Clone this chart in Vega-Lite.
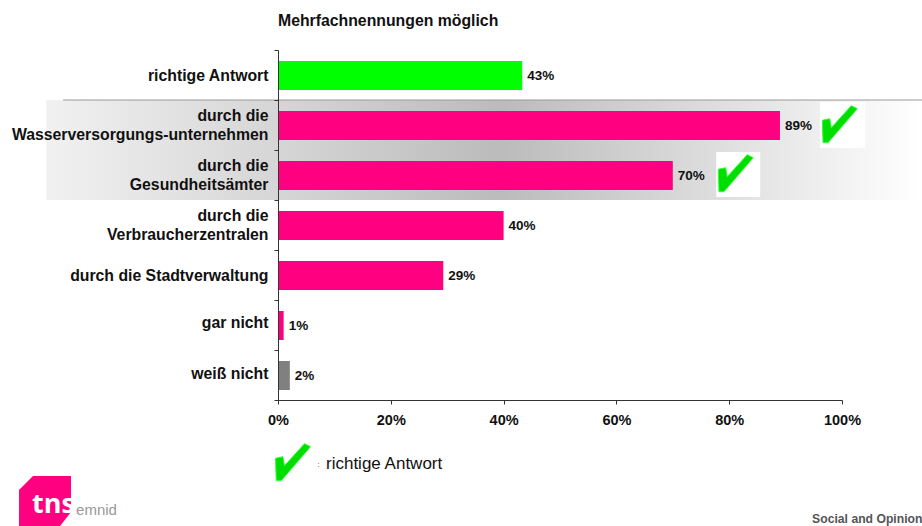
{"$schema":"https://vega.github.io/schema/vega-lite/v6.json","width":564,"height":350,"autosize":{"type":"none"},"padding":{"left":278,"top":50,"right":80,"bottom":126},"background":"white","view":{"stroke":null},"config":{"font":"Liberation Sans","text":{"font":"Liberation Sans"}},"resolve":{"scale":{"y":"independent"}},"layer":[{"data":{"values":[{"name":"richtige Antwort","value":43.3,"label":"43%","group":"richtig"},{"name":"durch die|Wasserversorgungs-unternehmen","value":89,"label":"89%","group":"genannt"},{"name":"durch die|Gesundheitsämter","value":70,"label":"70%","group":"genannt"},{"name":"durch die|Verbraucherzentralen","value":40,"label":"40%","group":"genannt"},{"name":"durch die Stadtverwaltung","value":29.3,"label":"29%","group":"genannt"},{"name":"gar nicht","value":1,"label":"1%","group":"genannt"},{"name":"weiß nicht","value":2.1,"label":"2%","group":"unklar"}]},"layer":[{"transform":[{"filter":"datum.value==89||datum.value==70"}],"mark":{"type":"rect","fill":{"gradient":"linear","x1":0,"x2":1,"y1":0,"y2":0,"stops":[{"offset":0,"color":"#f1f1f1"},{"offset":0.52,"color":"#bbbbbb"},{"offset":1,"color":"#ffffff"}]}},"encoding":{"x":{"datum":-41.1,"type":"quantitative"},"x2":{"datum":114.2},"y":{"field":"name","type":"nominal","sort":["richtige Antwort","durch die|Wasserversorgungs-unternehmen","durch die|Gesundheitsämter","durch die|Verbraucherzentralen","durch die Stadtverwaltung","gar nicht","weiß nicht"]}}},{"transform":[{"filter":"datum.value==89"}],"mark":{"type":"rule","color":"#999999","strokeWidth":1},"encoding":{"x":{"datum":-38.1,"type":"quantitative"},"x2":{"datum":114.2},"y":{"field":"name","type":"nominal","sort":["richtige Antwort","durch die|Wasserversorgungs-unternehmen","durch die|Gesundheitsämter","durch die|Verbraucherzentralen","durch die Stadtverwaltung","gar nicht","weiß nicht"],"bandPosition":0}}},{"mark":{"type":"bar","size":29,"yOffset":0.5},"encoding":{"x":{"field":"value","type":"quantitative","scale":{"domain":[0,100],"nice":false},"axis":{"values":[0,20,40,60,80,100],"title":null,"grid":false,"labelExpr":"datum.value+'%'","labelFont":"Liberation Sans","labelFontWeight":"bold","labelFontSize":14.5,"labelColor":"#111111","labelPadding":9,"tickSize":4,"tickColor":"#333333","domainColor":"#333333","labelFlush":false,"zindex":1}},"y":{"field":"name","type":"nominal","sort":["richtige Antwort","durch die|Wasserversorgungs-unternehmen","durch die|Gesundheitsämter","durch die|Verbraucherzentralen","durch die Stadtverwaltung","gar nicht","weiß nicht"],"scale":{"paddingInner":0,"paddingOuter":0},"axis":{"title":null,"grid":false,"tickBand":"extent","labelExpr":"split(datum.label,'|')","labelFont":"Liberation Sans","labelFontWeight":"bold","labelFontSize":15.8,"labelLineHeight":19,"labelColor":"#111111","labelPadding":6,"labelLimit":300,"labelOffset":{"condition":[{"test":"indexof(datum.label,'|')>=0","value":-10},{"test":"datum.label=='gar nicht'","value":-3},{"test":"datum.label=='weiß nicht'","value":-2}],"value":0},"tickSize":4,"tickColor":"#333333","domainColor":"#333333","zindex":1}},"color":{"field":"group","type":"nominal","legend":null,"scale":{"domain":["richtig","genannt","unklar"],"range":["#00ff00","#ff0080","#808080"]}}}},{"mark":{"type":"text","align":"left","baseline":"middle","dx":5,"dy":1,"fontWeight":"bold","fontSize":13.5,"color":"#111111","font":"Liberation Sans"},"encoding":{"x":{"field":"value","type":"quantitative"},"y":{"field":"name","type":"nominal","sort":["richtige Antwort","durch die|Wasserversorgungs-unternehmen","durch die|Gesundheitsämter","durch die|Verbraucherzentralen","durch die Stadtverwaltung","gar nicht","weiß nicht"]},"text":{"field":"label"}}}]},{"data":{"values":[{}]},"layer":[{"mark":{"type":"rect","fill":"white"},"encoding":{"x":{"datum":96.1,"type":"quantitative"},"x2":{"datum":104.1},"y":{"datum":102,"type":"quantitative","scale":{"domain":[50,400],"range":[0,350],"nice":false},"axis":null},"y2":{"datum":148}}},{"mark":{"type":"rect","fill":"white"},"encoding":{"x":{"datum":77.7,"type":"quantitative"},"x2":{"datum":85.5},"y":{"datum":152,"type":"quantitative","scale":{"domain":[50,400],"range":[0,350],"nice":false},"axis":null},"y2":{"datum":197}}},{"mark":{"type":"point","filled":true,"fill":"#00dd00","stroke":"#33ff33","strokeWidth":1,"opacity":1,"size":4,"shape":"M11.3-18.3L17.3-15.3L-12 18.7L-17 18.7L-17.7-3.7L-10.3-5.3L-8.7 3.7Z"},"encoding":{"x":{"datum":99.65,"type":"quantitative"},"y":{"datum":124,"type":"quantitative","scale":{"domain":[50,400],"range":[0,350],"nice":false},"axis":null}}},{"mark":{"type":"point","filled":true,"fill":"#00dd00","stroke":"#33ff33","strokeWidth":1,"opacity":1,"size":4,"shape":"M11.3-18.3L17.3-15.3L-12 18.7L-17 18.7L-17.7-3.7L-10.3-5.3L-8.7 3.7Z"},"encoding":{"x":{"datum":81.2,"type":"quantitative"},"y":{"datum":173,"type":"quantitative","scale":{"domain":[50,400],"range":[0,350],"nice":false},"axis":null}}},{"mark":{"type":"point","filled":true,"fill":"#00dd00","stroke":"#33ff33","strokeWidth":1,"opacity":1,"size":4,"shape":"M11.3-18.3L17.3-15.3L-12 18.7L-17 18.7L-17.7-3.7L-10.3-5.3L-8.7 3.7Z"},"encoding":{"x":{"datum":2.7,"type":"quantitative"},"y":{"datum":462,"type":"quantitative","scale":{"domain":[50,400],"range":[0,350],"nice":false},"axis":null}}},{"mark":{"type":"point","filled":true,"fill":"#ff0080","opacity":1,"size":4,"shape":"M-27-11L-13-25L25-25L25 11L14 25L-27 25Z"},"encoding":{"x":{"datum":-41.13,"type":"quantitative"},"y":{"datum":501,"type":"quantitative","scale":{"domain":[50,400],"range":[0,350],"nice":false},"axis":null}}},{"mark":{"type":"text","align":"left","baseline":"middle","text":"Mehrfachnennungen möglich","fontWeight":"bold","fontSize":15.8,"color":"#111111"},"encoding":{"x":{"datum":0,"type":"quantitative"},"y":{"datum":20.5,"type":"quantitative","scale":{"domain":[50,400],"range":[0,350],"nice":false},"axis":null}}},{"mark":{"type":"text","align":"left","baseline":"middle","text":":","fontSize":7,"color":"#111111"},"encoding":{"x":{"datum":7,"type":"quantitative"},"y":{"datum":465,"type":"quantitative","scale":{"domain":[50,400],"range":[0,350],"nice":false},"axis":null}}},{"mark":{"type":"text","align":"left","baseline":"middle","text":"richtige Antwort","fontSize":17,"color":"#111111"},"encoding":{"x":{"datum":8.51,"type":"quantitative"},"y":{"datum":464,"type":"quantitative","scale":{"domain":[50,400],"range":[0,350],"nice":false},"axis":null}}},{"mark":{"type":"text","align":"left","baseline":"middle","text":"tns","fontWeight":"bold","fontSize":27,"color":"white","font":"Open Sans"},"encoding":{"x":{"datum":-43.6,"type":"quantitative"},"y":{"datum":505,"type":"quantitative","scale":{"domain":[50,400],"range":[0,350],"nice":false},"axis":null}}},{"mark":{"type":"text","align":"left","baseline":"middle","text":"emnid","fontSize":15,"color":"#999999"},"encoding":{"x":{"datum":-35.8,"type":"quantitative"},"y":{"datum":510,"type":"quantitative","scale":{"domain":[50,400],"range":[0,350],"nice":false},"axis":null}}},{"mark":{"type":"text","align":"left","baseline":"middle","text":"Social and Opinion","fontWeight":"bold","fontSize":12.2,"color":"#555555"},"encoding":{"x":{"datum":94.7,"type":"quantitative"},"y":{"datum":519,"type":"quantitative","scale":{"domain":[50,400],"range":[0,350],"nice":false},"axis":null}}}]}]}
